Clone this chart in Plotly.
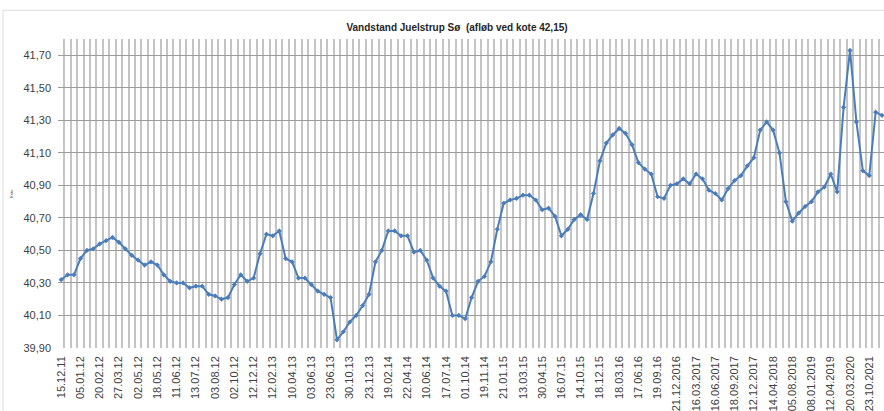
import plotly.graph_objects as go

# Water level readings (m, kote), one per survey
levels = [
    40.32, 40.35, 40.35, 40.45, 40.50, 40.51, 40.54, 40.56, 40.58, 40.55,
    40.51, 40.47, 40.44, 40.41, 40.43, 40.41, 40.35, 40.31, 40.30, 40.30,
    40.27, 40.28, 40.28, 40.23, 40.22, 40.20, 40.21, 40.29, 40.35, 40.31,
    40.33, 40.48, 40.60, 40.59, 40.62, 40.45, 40.43, 40.33, 40.33, 40.29,
    40.25, 40.23, 40.21, 39.95, 40.00, 40.06, 40.10, 40.16, 40.23, 40.43,
    40.50, 40.62, 40.62, 40.59, 40.59, 40.49, 40.50, 40.44, 40.33, 40.28,
    40.25, 40.10, 40.10, 40.08, 40.21, 40.31, 40.34, 40.43, 40.63, 40.79,
    40.81, 40.82, 40.84, 40.84, 40.81, 40.75, 40.76, 40.71, 40.59, 40.63,
    40.69, 40.72, 40.69, 40.85, 41.05, 41.16, 41.21, 41.25, 41.22, 41.15,
    41.04, 41.00, 40.97, 40.83, 40.82, 40.90, 40.91, 40.94, 40.91, 40.97,
    40.94, 40.87, 40.85, 40.81, 40.88, 40.93, 40.96, 41.02, 41.07, 41.24,
    41.29, 41.24, 41.10, 40.80, 40.68, 40.73, 40.77, 40.80, 40.86, 40.89,
    40.97, 40.86, 41.38, 41.73, 41.29, 40.99, 40.96, 41.35, 41.33,
]

# Dates shown on the category axis (every third survey)
date_labels = [
    "15.12.11", "05.01.12", "20.02.12", "27.03.12", "02.05.12", "18.05.12",
    "11.06.12", "13.07.12", "03.08.12", "02.10.12", "12.12.12", "12.02.13",
    "10.04.13", "03.06.13", "23.06.13", "30.10.13", "23.12.13", "19.02.14",
    "22.04.14", "10.06.14", "17.07.14", "01.10.14", "19.11.14", "21.01.15",
    "13.03.15", "30.04.15", "16.07.15", "14.10.15", "18.12.15", "18.03.16",
    "17.06.16", "19.09.16", "21.12.2016", "16.03.2017", "16.06.2017",
    "18.09.2017", "12.12.2017", "14.04.2018", "05.08.2018", "08.01.2019",
    "12.04.2019", "20.03.2020", "23.10.2021",
]
label_step = 3

x_idx = list(range(len(levels)))
label_pos = [i * label_step for i in range(len(date_labels))]

fig = go.Figure(
    go.Scatter(
        x=x_idx,
        y=levels,
        mode="lines+markers",
        line=dict(color="#4a7ebb", width=2),
        marker=dict(symbol="diamond", size=4, color="#4a7ebb"),
        hoverinfo="y",
    )
)

fig.update_layout(
    width=884,
    height=411,
    margin=dict(l=58, r=0, t=39, b=60),
    paper_bgcolor="white",
    plot_bgcolor="white",
    showlegend=False,
    separators=",.",
    title=dict(
        text="<b>Vandstand Juelstrup Sø  (afløb ved kote 42,15)</b>",
        font=dict(family="Liberation Sans Narrow, Liberation Sans, Arial", size=10, color="#262626"),
        x=0.517,
        xanchor="center",
        xref="container",
        y=1 - 27 / 411,
        yanchor="middle",
        yref="container",
    ),
    font=dict(family="Liberation Sans, Arial", color="#404040"),
)

fig.update_xaxes(
    range=[-0.5, 128.3],
    tickmode="array",
    tickvals=label_pos,
    ticktext=date_labels,
    tickangle=-90,
    tickfont=dict(size=11, color="#404040"),
    showgrid=False,
    zeroline=False,
    showline=False,
    ticks="",
    ticklabelstandoff=5,
    minor=dict(
        tickmode="linear",
        tick0=-0.5,
        dtick=1,
        showgrid=True,
        gridcolor="#c4c4c4",
        gridwidth=1.5,
        ticks="",
    ),
)

fig.update_yaxes(
    range=[39.9, 41.8],
    tickmode="linear",
    tick0=39.9,
    dtick=0.2,
    tickformat=".2f",
    tickfont=dict(size=11, color="#404040"),
    showgrid=True,
    gridcolor="#9c9c9c",
    gridwidth=1,
    zeroline=False,
    showline=False,
    ticks="",
    ticklabelstandoff=6,
    title=dict(text="Kote", font=dict(size=4, color="#404040"), standoff=10),
)

# Light frame around the chart area
fig.add_shape(
    type="rect",
    xref="paper",
    yref="paper",
    x0=(3 - 58) / 826,
    x1=1.1,
    y0=-0.3,
    y1=1 + 29 / 312,
    line=dict(color="#dcdcdc", width=1),
    fillcolor="rgba(0,0,0,0)",
    layer="below",
)

fig.write_html("out.html")
